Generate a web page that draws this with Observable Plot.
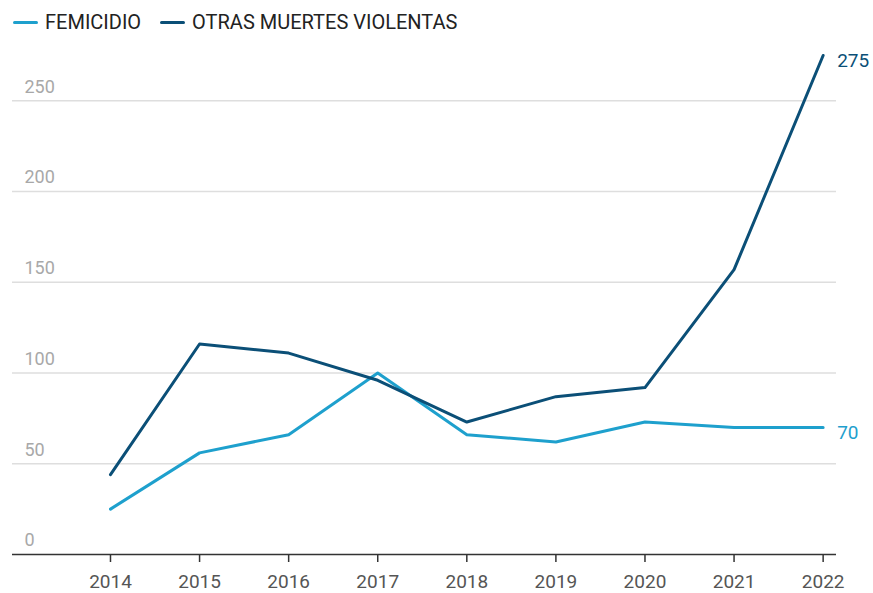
<!DOCTYPE html>
<html>
<head>
<meta charset="utf-8">
<script src="https://cdn.jsdelivr.net/npm/d3@7"></script>
<script src="https://cdn.jsdelivr.net/npm/@observablehq/plot@0.6"></script>
<style>
  body { margin: 0; background: #fff; font-family: Roboto, "Noto Sans", sans-serif; }
  #legend { height: 44px; display: flex; align-items: center; padding-left: 13px; box-sizing: border-box; font-size: 20px; color: #222; }
  .item { display: flex; align-items: center; margin-right: 19px; }
  .sw { width: 25px; height: 3px; margin-right: 7px; border-radius: 2px; }
  #chart svg { display: block; }
</style>
</head>
<body>
<div id="legend"></div>
<div id="chart"></div>
<script>
const years = [2014, 2015, 2016, 2017, 2018, 2019, 2020, 2021, 2022];
const femicidio = [25, 56, 66, 100, 66, 62, 73, 70, 70];
const otras = [44, 116, 111, 96, 73, 87, 92, 157, 275];
const seriesNames = ["FEMICIDIO", "OTRAS MUERTES VIOLENTAS"];
const seriesColors = ["#1ea0cd", "#0b4f77"];
const yTicks = [0, 50, 100, 150, 200, 250];

const legend = document.getElementById("legend");
seriesNames.forEach((n, i) => {
  const d = document.createElement("div");
  d.className = "item";
  d.innerHTML = `<span class="sw" style="background:${seriesColors[i]}"></span><span>${n}</span>`;
  legend.appendChild(d);
});

const data = [];
years.forEach((y, i) => {
  data.push({year: y, value: femicidio[i], serie: seriesNames[0]});
  data.push({year: y, value: otras[i], serie: seriesNames[1]});
});
const lastPoints = data.filter(d => d.year === years[years.length - 1]);

const chart = Plot.plot({
  width: 873,
  height: 549,
  marginLeft: 12,
  marginRight: 37,
  marginTop: 11,
  marginBottom: 39,
  style: {fontFamily: "Roboto, sans-serif", background: "#fff"},
  x: {domain: [2012.9, 2022.15]},
  y: {domain: [0, 275]},
  color: {domain: seriesNames, range: seriesColors},
  marks: [
    Plot.ruleY(yTicks.filter(t => t > 0), {stroke: "#dedede", strokeWidth: 1.5}),
    Plot.axisY({ticks: yTicks, tickSize: 0, tickPadding: 0, textAnchor: "start", dx: 12, dy: -14, fontSize: 18, fill: "#a8a8a8", label: null, tickFormat: d => String(d)}),
    Plot.ruleY([0], {stroke: "#333", strokeWidth: 1.5}),
    Plot.axisX({ticks: years, tickSize: 8, tickPadding: 12, tickFormat: d => String(d), fontSize: 19, fill: "#555", stroke: "#333", strokeWidth: 1.5, label: null}),
    Plot.line(data, {x: "year", y: "value", z: "serie", stroke: "serie", strokeWidth: 3, strokeLinejoin: "round"}),
    Plot.text(lastPoints, {x: "year", y: "value", text: d => String(d.value), fill: "serie", dx: 14, dy: 5, textAnchor: "start", fontSize: 19})
  ]
});
document.getElementById("chart").appendChild(chart);
</script>
</body>
</html>
